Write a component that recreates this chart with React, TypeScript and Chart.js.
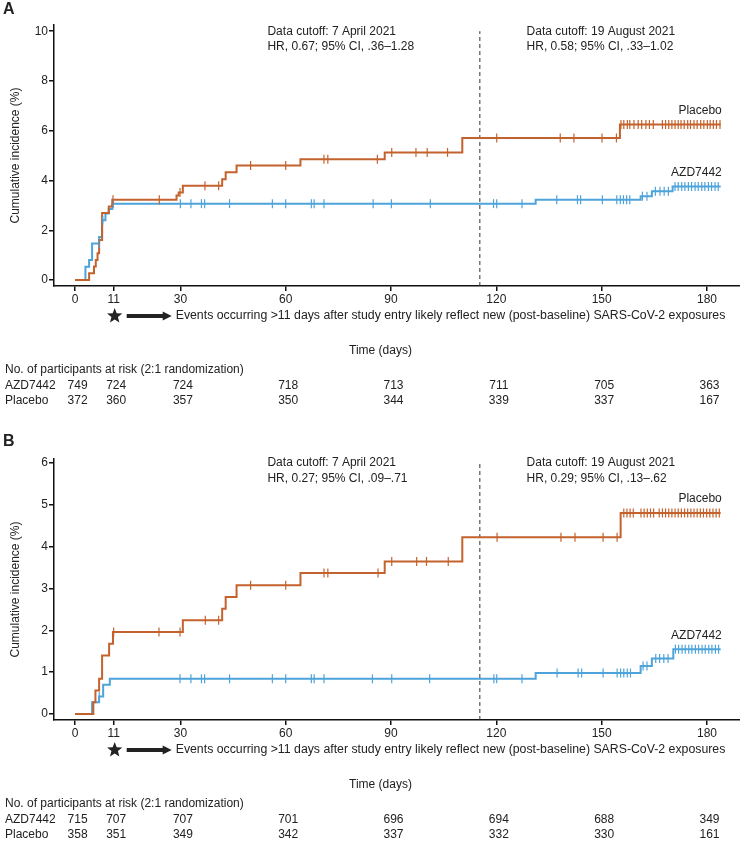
import React, { useEffect, useRef } from 'react';
import { Chart, registerables } from 'chart.js';
Chart.register(...registerables);

const FONT_FAMILY = '"Liberation Sans", Arial, Helvetica, sans-serif';
const ORANGE = '#C4622D';
const BLUE = '#4EA4DA';

const xTickValues = [0, 11, 30, 60, 90, 120, 150, 180];
const cutoffDay = 115.3;

// ---------- Panel A ----------
const aPlaceboTimes = [0, 4.0, 5.4, 5.9, 6.4, 6.85, 7.7, 9.6, 10.6, 28.9, 29.5, 30.7, 41.9, 42.9, 46.0, 64.2, 88.2, 110.3, 155.2, 183.9];
const aPlaceboValues = [0, 0.27, 0.54, 0.81, 1.08, 1.61, 2.69, 2.96, 3.23, 3.4, 3.52, 3.79, 4.05, 4.33, 4.6, 4.85, 5.13, 5.71, 6.25, 6.25];
const aAzdTimes = [0, 2.95, 4.0, 4.85, 6.85, 7.7, 8.65, 9.6, 10.6, 131.2, 161.1, 164.3, 170.2, 183.9];
const aAzdValues = [0, 0.53, 0.8, 1.47, 1.73, 2.4, 2.67, 2.85, 3.07, 3.23, 3.37, 3.57, 3.76, 3.76];
const aPlaceboCensor = [10.8, 24, 29.9, 37, 40.9, 50, 60, 70.9, 72, 86.1, 90.2, 97.1, 100.3, 106.1, 120.1, 138.2, 142.1, 150.1, 154.2, 155.5, 156.3, 157.3, 158.0, 159.2, 160.4, 161.4, 162.6, 163.6, 164.7, 167.3, 168.2, 169.1, 170.0, 170.9, 171.8, 172.6, 173.5, 174.5, 175.3, 176.3, 177.2, 178.2, 179.1, 180.1, 180.9, 181.8, 182.7, 183.7];
const aAzdCensor = [6.8, 7.9, 10.9, 30, 33, 36, 36.9, 44, 56.2, 60, 67.3, 68.1, 70.9, 84.9, 90.1, 101.2, 119.2, 120.1, 127.3, 137.2, 143.1, 144, 150.2, 154.3, 155.3, 156.2, 157.1, 158, 161.6, 162.9, 165.3, 166.6, 167.8, 169, 170.9, 171.8, 172.8, 173.7, 174.7, 175.6, 176.6, 177.5, 178.5, 179.4, 180.4, 181.3, 182.3, 183.2];
const aYTicks = [0, 2, 4, 6, 8, 10];
const aRiskAzd = [749, 724, 724, 718, 713, 711, 705, 363];
const aRiskPlacebo = [372, 360, 357, 350, 344, 339, 337, 167];
const aCutoff1 = ['Data cutoff: 7 April 2021', 'HR, 0.67; 95% CI, .36\u20131.28'];
const aCutoff2 = ['Data cutoff: 19 August 2021', 'HR, 0.58; 95% CI, .33\u20131.02'];

// ---------- Panel B ----------
const bPlaceboTimes = [0, 5.2, 5.8, 6.85, 7.7, 9.7, 10.8, 30.7, 41.9, 42.9, 46.0, 64.2, 88.2, 110.3, 155.4, 183.9];
const bPlaceboValues = [0, 0.28, 0.56, 0.84, 1.4, 1.68, 1.96, 2.24, 2.52, 2.8, 3.08, 3.37, 3.65, 4.23, 4.81, 4.81];
const bAzdTimes = [0, 4.85, 6.85, 8.0, 9.9, 131.2, 161.1, 164.3, 170.4, 183.9];
const bAzdValues = [0, 0.28, 0.42, 0.7, 0.84, 0.98, 1.15, 1.33, 1.55, 1.55];
const bPlaceboCensor = [11.0, 23.9, 29.9, 37.1, 40.9, 50, 60, 70.9, 72, 86.3, 90.2, 97.3, 100.1, 106.3, 120.2, 138.4, 142.4, 150.4, 154.4, 156.3, 157.2, 158.1, 159.0, 161.2, 162.1, 163.0, 163.9, 164.8, 166.4, 167.3, 168.2, 169.1, 170.0, 170.9, 171.8, 172.7, 173.6, 174.5, 175.4, 176.3, 177.2, 178.1, 179.0, 179.9, 180.8, 181.7, 182.6, 183.5];
const bAzdCensor = [6.9, 29.9, 33, 36, 36.9, 44, 56.2, 60, 67.3, 68.1, 70.9, 84.7, 90.2, 101, 119.3, 120.1, 127.3, 137.3, 143.3, 144.3, 150.4, 154.4, 155.4, 156.3, 157.3, 158.2, 161.8, 162.9, 165.4, 166.5, 167.7, 168.9, 171, 171.9, 172.9, 173.8, 174.8, 175.7, 176.7, 177.6, 178.6, 179.5, 180.5, 181.4, 182.4, 183.3];
const bYTicks = [0, 1, 2, 3, 4, 5, 6];
const bRiskAzd = [715, 707, 707, 701, 696, 694, 688, 349];
const bRiskPlacebo = [358, 351, 349, 342, 337, 332, 330, 161];
const bCutoff1 = ['Data cutoff: 7 April 2021', 'HR, 0.27; 95% CI, .09\u2013.71'];
const bCutoff2 = ['Data cutoff: 19 August 2021', 'HR, 0.29; 95% CI, .13\u2013.62'];

const annotationText = 'Events occurring >11 days after study entry likely reflect new (post-baseline) SARS-CoV-2 exposures';

type Panel = {
  letter: string;
  height: number;
  topPad: number;
  bottomHeight: number;
  yMin: number;
  yMax: number;
  yTicks: number[];
  placeboT: number[]; placeboV: number[];
  azdT: number[]; azdV: number[];
  placeboC: number[]; azdC: number[];
  riskAzd: number[]; riskPlacebo: number[];
  cut1: string[]; cut2: string[];
};

const panels: Panel[] = [
  { letter: 'A', height: 420, topPad: 25, bottomHeight: 134, yMin: -0.24, yMax: 10.25, yTicks: aYTicks,
    placeboT: aPlaceboTimes, placeboV: aPlaceboValues, azdT: aAzdTimes, azdV: aAzdValues,
    placeboC: aPlaceboCensor, azdC: aAzdCensor, riskAzd: aRiskAzd, riskPlacebo: aRiskPlacebo,
    cut1: aCutoff1, cut2: aCutoff2 },
  { letter: 'B', height: 423, topPad: 39, bottomHeight: 123, yMin: -0.144, yMax: 6.1, yTicks: bYTicks,
    placeboT: bPlaceboTimes, placeboV: bPlaceboValues, azdT: bAzdTimes, azdV: bAzdValues,
    placeboC: bPlaceboCensor, azdC: bAzdCensor, riskAzd: bRiskAzd, riskPlacebo: bRiskPlacebo,
    cut1: bCutoff1, cut2: bCutoff2 },
];

const valueAt = (times: number[], vals: number[], t: number) => {
  let v = vals[0];
  for (let i = 0; i < times.length; i++) if (times[i] <= t) v = vals[i];
  return v;
};

const drawStar = (ctx: CanvasRenderingContext2D, cx: number, cy: number, ro: number, ri: number) => {
  ctx.beginPath();
  for (let i = 0; i < 10; i++) {
    const r = i % 2 === 0 ? ro : ri;
    const a = -Math.PI / 2 + (i * Math.PI) / 5;
    const px = cx + r * Math.cos(a);
    const py = cy + r * Math.sin(a);
    if (i === 0) ctx.moveTo(px, py); else ctx.lineTo(px, py);
  }
  ctx.closePath();
  ctx.fill();
};

function makeChart(canvas: HTMLCanvasElement, p: Panel) {
  const font = `12px ${FONT_FAMILY}`;
  const topTick = p.yTicks[p.yTicks.length - 1];
  const overlay = {
    id: 'overlay',
    afterDraw(chart: any) {
      const ctx: CanvasRenderingContext2D = chart.ctx;
      const xs = chart.scales.x;
      const ys = chart.scales.y;
      const area = chart.chartArea;
      ctx.save();
      ctx.fillStyle = '#222';
      // panel letter
      ctx.font = `bold 16px ${FONT_FAMILY}`;
      ctx.textAlign = 'left';
      ctx.textBaseline = 'middle';
      ctx.fillText(p.letter, 3, p.letter === 'A' ? 10 : 22);
      // y title
      ctx.font = font;
      ctx.save();
      ctx.translate(16, (area.top + area.bottom) / 2);
      ctx.rotate(-Math.PI / 2);
      ctx.textAlign = 'center';
      ctx.fillText('Cumulative incidence (%)', 0, 0);
      ctx.restore();
      // cutoff text blocks
      const ty = ys.getPixelForValue(topTick);
      ctx.textAlign = 'left';
      ctx.fillText(p.cut1[0], xs.getPixelForValue(54.8), ty);
      ctx.fillText(p.cut1[1], xs.getPixelForValue(54.8), ty + 15.5);
      ctx.fillText(p.cut2[0], xs.getPixelForValue(128.6), ty);
      ctx.fillText(p.cut2[1], xs.getPixelForValue(128.6), ty + 15.5);
      // group labels
      ctx.textAlign = 'right';
      const endX = xs.getPixelForValue(p.placeboT[p.placeboT.length - 1] + 0.3);
      ctx.fillText('Placebo', endX, ys.getPixelForValue(p.placeboV[p.placeboV.length - 1]) - 14);
      ctx.fillText('AZD7442', endX, ys.getPixelForValue(p.azdV[p.azdV.length - 1]) - 13.5);
      // star + arrow + annotation
      const sx = xs.getPixelForValue(11) + 1;
      const sy = area.bottom + 30;
      drawStar(ctx, sx, sy, 8, 3.4);
      ctx.strokeStyle = '#222';
      ctx.lineWidth = 4;
      ctx.beginPath();
      ctx.moveTo(sx + 12, sy);
      ctx.lineTo(sx + 50, sy);
      ctx.stroke();
      ctx.beginPath();
      ctx.moveTo(sx + 57, sy);
      ctx.lineTo(sx + 48, sy - 4.5);
      ctx.lineTo(sx + 48, sy + 4.5);
      ctx.closePath();
      ctx.fill();
      ctx.textAlign = 'left';
      ctx.font = `12.3px ${FONT_FAMILY}`;
      ctx.fillText(annotationText, sx + 61, sy);
      ctx.font = font;
      // x title
      ctx.textAlign = 'center';
      ctx.fillText('Time (days)', xs.getPixelForValue(87), area.bottom + 65);
      // risk table
      ctx.textAlign = 'left';
      ctx.fillText('No. of participants at risk (2:1 randomization)', 5, area.bottom + 84);
      ctx.fillText('AZD7442', 5, area.bottom + 99.5);
      ctx.fillText('Placebo', 5, area.bottom + 115);
      ctx.textAlign = 'center';
      xTickValues.forEach((t, i) => {
        const x = xs.getPixelForValue(t) + 2.5;
        ctx.fillText(String(p.riskAzd[i]), x, area.bottom + 99.5);
        ctx.fillText(String(p.riskPlacebo[i]), x, area.bottom + 115);
      });
      ctx.restore();
    },
  };

  const toPts = (ts: number[], vs: number[]) => ts.map((t, i) => ({ x: t, y: vs[i] }));
  const censPts = (cs: number[], ts: number[], vs: number[]) => cs.map((c) => ({ x: c, y: valueAt(ts, vs, c) }));

  const censorStyle = (color: string) => ({
    showLine: false,
    borderColor: color,
    backgroundColor: color,
    pointStyle: 'line',
    rotation: 90,
    pointRadius: 4.5,
    pointBorderWidth: 1.2,
    pointHoverRadius: 0,
  });

  return new Chart(canvas, {
    type: 'line',
    data: {
      datasets: [
        { data: censPts(p.placeboC, p.placeboT, p.placeboV), ...censorStyle(ORANGE) } as any,
        { data: censPts(p.azdC, p.azdT, p.azdV), ...censorStyle(BLUE) } as any,
        { data: toPts(p.placeboT, p.placeboV), borderColor: ORANGE, borderWidth: 2, stepped: true, pointRadius: 0, fill: false },
        { data: toPts(p.azdT, p.azdV), borderColor: BLUE, borderWidth: 2, stepped: true, pointRadius: 0, fill: false },
        { data: [{ x: cutoffDay, y: p.yMin }, { x: cutoffDay, y: topTick }], borderColor: '#333', borderWidth: 1, borderDash: [4, 3], pointRadius: 0, fill: false },
      ],
    },
    options: {
      responsive: false,
      animation: false,
      devicePixelRatio: 1,
      layout: { autoPadding: false, padding: { left: 0, right: 0, top: p.topPad, bottom: 0 } },
      plugins: { legend: { display: false }, tooltip: { enabled: false } },
      events: [],
      scales: {
        x: {
          type: 'linear',
          min: -6,
          max: 189.4,
          afterBuildTicks: (scale: any) => { scale.ticks = xTickValues.map((v) => ({ value: v })); },
          afterFit: (scale: any) => { scale.height = p.bottomHeight; },
          ticks: { autoSkip: false, maxRotation: 0, padding: 1, color: '#222', font: { size: 12, family: FONT_FAMILY } },
          grid: { drawOnChartArea: false, drawTicks: true, tickLength: 5, color: '#111', lineWidth: 1.5 },
          border: { display: true, color: '#111', width: 1.5 },
        },
        y: {
          type: 'linear',
          min: p.yMin,
          max: p.yMax,
          afterBuildTicks: (scale: any) => { scale.ticks = p.yTicks.map((v) => ({ value: v })); },
          afterFit: (scale: any) => { scale.width = 54; },
          ticks: { autoSkip: false, padding: 1, color: '#222', font: { size: 12, family: FONT_FAMILY } },
          grid: { drawOnChartArea: false, drawTicks: true, tickLength: 5, color: '#111', lineWidth: 1.5 },
          border: { display: true, color: '#111', width: 1.5 },
        },
      },
    },
    plugins: [overlay],
  } as any);
}

function PanelChart({ panel, top }: { panel: Panel; top: number }) {
  const ref = useRef<HTMLCanvasElement | null>(null);
  useEffect(() => {
    if (!ref.current) return;
    const chart = makeChart(ref.current, panel);
    return () => chart.destroy();
  }, [panel]);
  return (
    <canvas
      ref={ref}
      width={740}
      height={panel.height}
      style={{ position: 'absolute', left: 0, top, width: 740, height: panel.height, display: 'block' }}
    />
  );
}

export default function App() {
  return (
    <div style={{ position: 'absolute', left: 0, top: 0, width: 740, height: 843, background: '#fff', overflow: 'hidden' }}>
      <PanelChart panel={panels[0]} top={0} />
      <PanelChart panel={panels[1]} top={420} />
    </div>
  );
}
